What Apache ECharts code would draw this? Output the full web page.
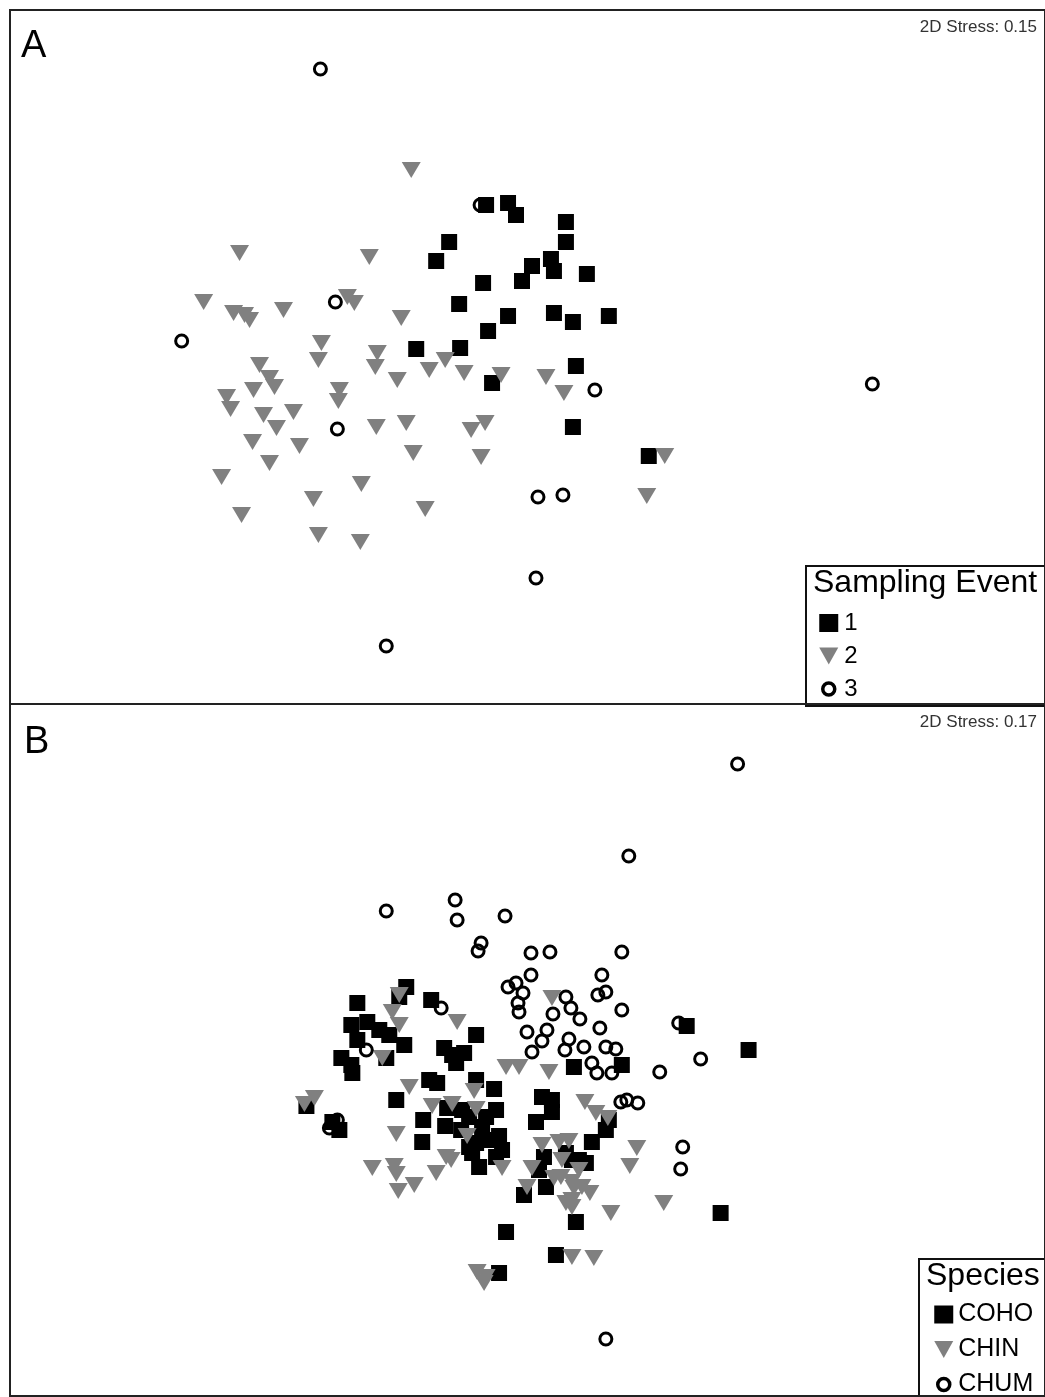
<!DOCTYPE html>
<html>
<head>
<meta charset="utf-8">
<script src="https://cdn.jsdelivr.net/npm/echarts@6/dist/echarts.min.js"></script>
<style>
html,body{margin:0;padding:0;background:#fff;}
#chart{width:1045px;height:1397px;}
</style>
</head>
<body>
<div id="chart"></div>
<script>
// Panel A – Sampling Event (ordination coordinates, plot units)
var event1 = [[487,205],[509,203],[517,215],[567,222],[567,242],[450,242],[437,261],[533,266],[552,259],[555,271],[588,274],[523,281],[484,283],[460,304],[509,316],[555,313],[574,322],[610,316],[489,331],[417,349],[461,348],[577,366],[493,383],[574,427],[650,456]];
var event2 = [[412,170],[240,253],[370,257],[204,302],[234,313],[245,315],[250,320],[284,310],[348,297],[355,303],[402,318],[322,343],[319,360],[260,365],[270,378],[275,387],[254,390],[227,397],[231,409],[264,415],[294,412],[277,428],[253,442],[300,446],[270,463],[222,477],[340,390],[339,401],[378,353],[376,367],[398,380],[430,370],[446,360],[465,373],[502,375],[547,377],[565,393],[377,427],[407,423],[414,453],[472,430],[486,423],[482,457],[362,484],[314,499],[242,515],[426,509],[319,535],[361,542],[666,456],[648,496]];
var event3 = [[321,69],[481,205],[336,302],[182,341],[596,390],[874,384],[338,429],[539,497],[564,495],[537,578],[387,646]];
// Panel B – Species
var coho = [[407,987],[358,1003],[432,1000],[400,997],[352,1025],[368,1022],[380,1030],[390,1035],[358,1040],[342,1058],[352,1065],[353,1073],[387,1058],[405,1045],[477,1035],[445,1048],[453,1055],[465,1053],[457,1063],[430,1080],[438,1083],[477,1080],[397,1100],[495,1089],[424,1120],[423,1142],[446,1126],[448,1108],[463,1110],[497,1110],[483,1127],[477,1143],[490,1140],[500,1136],[473,1153],[497,1157],[470,1147],[462,1130],[503,1150],[480,1167],[470,1117],[487,1117],[307,1106],[333,1122],[340,1130],[543,1097],[553,1100],[553,1112],[537,1122],[593,1142],[610,1120],[607,1130],[545,1157],[547,1187],[540,1170],[573,1160],[587,1163],[567,1153],[525,1195],[577,1222],[507,1232],[557,1255],[500,1273],[688,1026],[750,1050],[575,1067],[623,1065],[580,1160],[722,1213]];
var chin = [[400,995],[393,1012],[400,1025],[383,1058],[458,1022],[553,998],[410,1087],[433,1106],[453,1104],[475,1091],[477,1109],[468,1136],[397,1134],[315,1098],[305,1104],[507,1067],[520,1067],[550,1072],[447,1157],[452,1160],[373,1168],[395,1166],[397,1174],[415,1185],[399,1191],[437,1173],[503,1168],[533,1168],[528,1187],[543,1145],[560,1142],[570,1141],[563,1160],[555,1178],[562,1177],[573,1182],[580,1170],[575,1188],[583,1187],[591,1193],[573,1200],[567,1203],[573,1207],[612,1213],[631,1166],[638,1148],[586,1102],[597,1113],[609,1118],[573,1257],[595,1258],[478,1272],[487,1277],[485,1283],[665,1203]];
var chum = [[739,764],[630,856],[387,911],[456,900],[458,920],[506,916],[482,943],[479,951],[532,953],[551,952],[623,952],[532,975],[509,987],[517,983],[524,993],[519,1003],[520,1012],[567,997],[572,1008],[581,1019],[554,1014],[603,975],[599,995],[607,992],[623,1010],[680,1023],[528,1032],[548,1030],[543,1041],[533,1052],[570,1039],[566,1050],[585,1047],[601,1028],[607,1047],[617,1049],[593,1063],[598,1073],[613,1073],[661,1072],[702,1059],[622,1102],[628,1100],[639,1103],[684,1147],[682,1169],[442,1008],[367,1050],[338,1120],[330,1128],[607,1339]];
var legendA = ['1','2','3'];
var legendB = ['COHO','CHIN','CHUM'];
var stressA = '2D Stress: 0.15';
var stressB = '2D Stress: 0.17';

var FONT = 'Liberation Sans, Arial, sans-serif';
var chart = echarts.init(document.getElementById('chart'), null, {renderer:'canvas'});

var squareStyle = {symbol:'rect', symbolSize:16, itemStyle:{color:'#000', opacity:1}};
var triStyle = {symbol:'triangle', symbolSize:[19,16], symbolRotate:180, itemStyle:{color:'#808080', opacity:1}};
var circStyle = {symbol:'circle', symbolSize:12, itemStyle:{color:'rgba(255,255,255,0)', borderColor:'#000', borderWidth:3, opacity:1}};
var DOWN_TRI = 'path://M0,0 L20,0 L10,18 Z';
var RING = 'path://M0,0 L0,0 M18,18 L18,18 M15,9 A6,6 0 1 1 3,9 A6,6 0 1 1 15,9 Z';

function mk(name, data, style, idx){
  return Object.assign({name:name, type:'scatter', data:data, xAxisIndex:idx, yAxisIndex:idx, silent:true, emphasis:{disabled:true}}, JSON.parse(JSON.stringify(style)));
}
function legendItems(names){
  return names.map(function(n, i){
    if (i === 0) return {name:n, icon:'rect'};
    if (i === 1) return {name:n, icon:DOWN_TRI};
    return {name:n, icon:RING, itemStyle:{color:'rgba(255,255,255,0)', borderColor:'#000', borderWidth:3.5}};
  });
}

var hiddenAxis = {type:'value', show:false, axisLine:{show:false}, splitLine:{show:false}, axisTick:{show:false}, axisLabel:{show:false}};

var option = {
  animation:false,
  backgroundColor:'#fff',
  grid:[
    {left:10, top:10, width:1037, height:694, show:true, borderColor:'#222', borderWidth:2, backgroundColor:'transparent'},
    {left:10, top:704, width:1037, height:692, show:true, borderColor:'#222', borderWidth:2, backgroundColor:'transparent'}
  ],
  xAxis:[
    Object.assign({gridIndex:0, min:10, max:1047}, hiddenAxis),
    Object.assign({gridIndex:1, min:10, max:1047}, hiddenAxis)
  ],
  yAxis:[
    Object.assign({gridIndex:0, min:10, max:704, inverse:true}, hiddenAxis),
    Object.assign({gridIndex:1, min:704, max:1396, inverse:true}, hiddenAxis)
  ],
  legend:[
    {data:legendItems(legendA), orient:'vertical', left:813, top:606, height:110, itemWidth:19, itemHeight:18, itemGap:9, selectedMode:false,
     textStyle:{fontFamily:FONT, fontSize:24, color:'#000', lineHeight:24, padding:[0,0,0,1]}},
    {data:legendItems(legendB), orient:'vertical', left:928, top:1297, height:110, itemWidth:19, itemHeight:18, itemGap:10, selectedMode:false,
     textStyle:{fontFamily:FONT, fontSize:25, color:'#000', lineHeight:24, padding:[0,0,0,0]}}
  ],
  graphic:[
    {type:'rect', shape:{x:806, y:566, width:250, height:140}, style:{fill:'#fff', stroke:'#111', lineWidth:2}, z:-1},
    {type:'rect', shape:{x:919, y:1259, width:140, height:140}, style:{fill:'#fff', stroke:'#111', lineWidth:2}, z:-1},
    {type:'text', left:813, top:567, style:{text:'Sampling Event', fontFamily:FONT, fontSize:32, fill:'#000'}},
    {type:'text', left:926, top:1260, style:{text:'Species', fontFamily:FONT, fontSize:32, fill:'#000'}},
    {type:'text', right:8, top:19, style:{text:stressA, fontFamily:FONT, fontSize:17, fill:'#333'}},
    {type:'text', right:8, top:714, style:{text:stressB, fontFamily:FONT, fontSize:17, fill:'#333'}},
    {type:'text', left:21, top:28, style:{text:'A', fontFamily:FONT, fontSize:38, fill:'#000'}},
    {type:'text', left:24, top:724, style:{text:'B', fontFamily:FONT, fontSize:38, fill:'#000'}}
  ],
  series:[
    mk('3', event3, circStyle, 0),
    mk('1', event1, squareStyle, 0),
    mk('2', event2, triStyle, 0),
    mk('COHO', coho, squareStyle, 1),
    mk('CHIN', chin, triStyle, 1),
    mk('CHUM', chum, circStyle, 1)
  ]
};
chart.setOption(option);
</script>
</body>
</html>
